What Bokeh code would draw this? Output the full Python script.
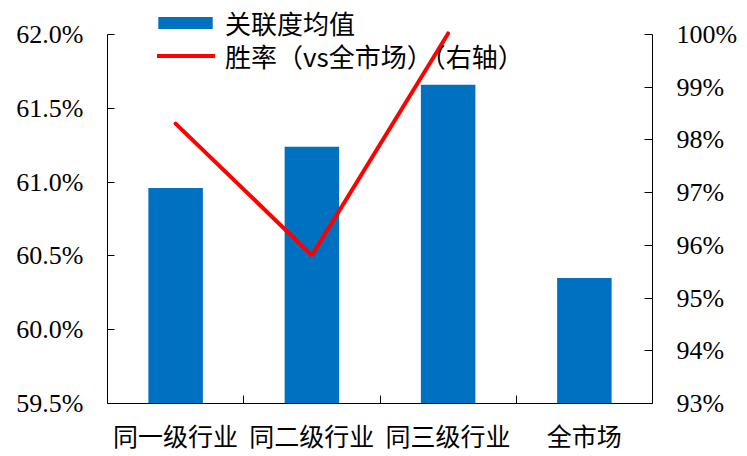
from bokeh.plotting import figure
from bokeh.models import (Range1d, LinearAxis, FixedTicker, NumeralTickFormatter,
                          Legend, LegendItem, ColumnDataSource)
from bokeh.embed import file_html
from bokeh.resources import INLINE

categories = ["同一级行业", "同二级行业", "同三级行业", "全市场"]
relevance_mean = [0.6096, 0.6124, 0.6166, 0.6035]
win_rate = [0.9831, 0.9581, 1.0002]
left_ticks = [0.595, 0.600, 0.605, 0.610, 0.615, 0.620]
right_ticks = [0.93, 0.94, 0.95, 0.96, 0.97, 0.98, 0.99, 1.00]

CJK = "'Noto Sans CJK SC', sans-serif"
SERIF = "'Liberation Serif', 'Times New Roman', serif"

# the axes span 369px; the frame reaches above them to leave room for the legend
AXIS_PX = 369
FRAME_PX = 403
ext = FRAME_PX / AXIS_PX
left_lo, left_hi = left_ticks[0], left_ticks[-1]
right_lo, right_hi = right_ticks[0], right_ticks[-1]

xs = [i + 0.5 for i in range(len(categories))]
bar_src = ColumnDataSource(dict(x=xs, top=relevance_mean))
line_src = ColumnDataSource(dict(x=xs[:len(win_rate)], y=win_rate))

p = figure(frame_width=545, frame_height=FRAME_PX, output_backend="svg", toolbar_location=None,
           x_range=Range1d(0, len(categories)),
           y_range=Range1d(left_lo, left_lo + (left_hi - left_lo) * ext),
           min_border_left=107, min_border_right=79, min_border_top=0, min_border_bottom=45,
           x_axis_type=None, y_axis_type=None)
p.outline_line_color = None
p.xgrid.visible = False
p.ygrid.visible = False
p.background_fill_color = "white"
p.border_fill_color = "white"

p.extra_y_ranges = {"right": Range1d(right_lo, right_lo + (right_hi - right_lo) * ext)}

bars = p.vbar(x="x", top="top", bottom=0, width=0.4, source=bar_src,
              fill_color="#0070C0", line_color=None)
line = p.line(x="x", y="y", source=line_src, y_range_name="right",
              line_color="#FF0000", line_width=4, line_cap="round")

def style_axis(ax):
    ax.axis_line_color = "black"
    ax.axis_line_width = 1
    ax.major_tick_line_color = "black"
    ax.minor_tick_line_color = "black"
    ax.major_label_text_color = "black"

# bottom axis
xax = LinearAxis(ticker=FixedTicker(ticks=xs, minor_ticks=[1, 2, 3]))
xax.major_label_overrides = {x: c for x, c in zip(xs, categories)}
xax.major_tick_in = 0
xax.major_tick_out = 0
xax.minor_tick_in = 8
xax.minor_tick_out = 0
xax.major_label_text_font = CJK
xax.major_label_text_font_size = "25px"
xax.major_label_standoff = 13
style_axis(xax)
p.add_layout(xax, "below")

# left axis
yax = LinearAxis(ticker=FixedTicker(ticks=left_ticks), bounds=(left_lo, left_hi),
                 formatter=NumeralTickFormatter(format="0.0%"))
yax.major_tick_in = 7
yax.major_tick_out = 0
yax.major_label_text_font = SERIF
yax.major_label_text_font_size = "26px"
yax.major_label_standoff = 24
style_axis(yax)
yax.minor_tick_line_color = None
p.add_layout(yax, "left")

# right axis
rax = LinearAxis(y_range_name="right", ticker=FixedTicker(ticks=right_ticks),
                 bounds=(right_lo, right_hi),
                 formatter=NumeralTickFormatter(format="0%"))
rax.major_tick_in = 8
rax.major_tick_out = 0
rax.major_label_text_font = SERIF
rax.major_label_text_font_size = "26px"
rax.major_label_standoff = 24
style_axis(rax)
rax.minor_tick_line_color = None
p.add_layout(rax, "right")

def style_legend(lg):
    lg.background_fill_alpha = 0
    lg.border_line_color = None
    lg.padding = 0
    lg.margin = 0
    lg.spacing = 0
    lg.label_text_font = CJK
    lg.label_text_font_size = "26px"
    lg.label_text_color = "black"

leg_a = Legend(items=[LegendItem(label="关联度均值", renderers=[bars])],
               location=(44, 362), glyph_width=68, glyph_height=15, label_standoff=6)
style_legend(leg_a)
leg_b = Legend(items=[LegendItem(label="胜率（vs全市场）（右轴）", renderers=[line])],
               location=(50, 329), glyph_width=58, glyph_height=15, label_standoff=10)
style_legend(leg_b)
p.add_layout(leg_a, "center")
p.add_layout(leg_b, "center")

open("out.html", "w").write(file_html(p, INLINE))
